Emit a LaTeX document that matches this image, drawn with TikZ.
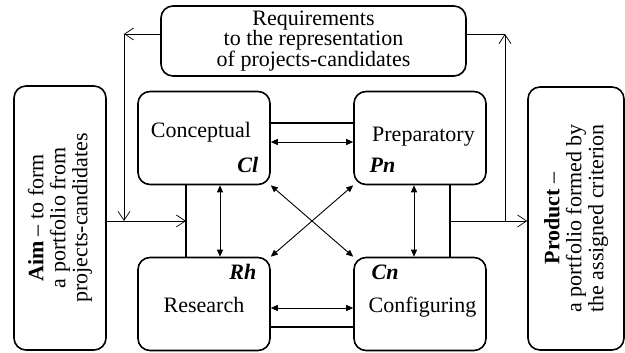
\documentclass[tikz,border=0pt]{standalone}
\usepackage{fontspec}
\setmainfont{Liberation Serif}
\usetikzlibrary{arrows.meta}
\begin{document}
\begin{tikzpicture}[x=1pt, y=1pt,
  blk/.style={draw, line width=1.6pt, rounded corners=12pt, minimum width=132pt, minimum height=93pt, inner sep=0pt},
  side/.style={draw, line width=1.6pt, rounded corners=12pt, inner sep=0pt, rotate=90, align=center, font=\fontsize{22}{22}\selectfont},
  tag/.style={font=\bfseries\itshape},
  bus/.style={line width=1.6pt},
  link/.style={line width=0.9pt, {Triangle[length=7pt,width=6pt]}-{Triangle[length=7pt,width=6pt]}},
  flow/.style={line width=0.7pt, -{Straight Barb[length=9pt,width=12pt]}}]
  \fontsize{22}{20}\selectfont
  \useasboundingbox (0,0) rectangle (625,353);

  \node[blk] (cl) at (204,215) {};
  \node[blk] (pn) at (420,215) {};
  \node[blk] (rh) at (204,49) {};
  \node[blk] (cn) at (420,49) {};
  \node[draw, line width=1.6pt, rounded corners=12pt, inner sep=0pt, minimum width=305pt, minimum height=70pt, align=center] (req) at (313.5,312) {Requirements\\to the representation\\of projects-candidates};
  \node[side, minimum width=264pt, minimum height=92pt] (aim) at (60,135) {\textbf{Aim} -- to form\\a portfolio from\\projects-candidates};
  \node[side, minimum width=263pt, minimum height=96pt] (prod) at (576,134.5) {\textbf{Product} --\\a portfolio formed by\\the assigned criterion};

  \node[anchor=base] (clt) at ([xshift=-3pt]cl.center) {Conceptual};
  \node[tag, anchor=base east] (cltag) at ([shift={(-5pt,12.5pt)}]cl.south east) {Cl};
  \node[anchor=base] (pnt) at ([shift={(3.5pt,-4pt)}]pn.center) {Preparatory};
  \node[tag, anchor=base west] (pntag) at ([shift={(9pt,12.5pt)}]pn.south west) {Pn};
  \node[anchor=base] (rht) at ([yshift=-9pt]rh.center) {Research};
  \node[tag, anchor=base east] (rhtag) at ([shift={(-7pt,-22.5pt)}]rh.north east) {Rh};
  \node[anchor=base] (cnt) at ([shift={(2.5pt,-9pt)}]cn.center) {Configuring};
  \node[tag, anchor=base west] (cntag) at ([shift={(11pt,-22.5pt)}]cn.north west) {Cn};

  \draw[bus] ([yshift=15pt]cl.east) -- ([yshift=15pt]pn.west);
  \draw[link] ([yshift=-4pt]cl.east) -- ([yshift=-4pt]pn.west);
  \draw[link] ([yshift=-4pt]rh.east) -- ([yshift=-4pt]cn.west);
  \draw[bus] ([yshift=-23pt]rh.east) -- ([yshift=-23pt]cn.west);
  \draw[bus] ([xshift=-18pt]cl.south) -- ([xshift=-18pt]rh.north);
  \draw[link] ([xshift=16pt]cl.south) -- ([xshift=16pt]rh.north);
  \draw[link] ([xshift=-6pt]pn.south) -- ([xshift=-6pt]cn.north);
  \draw[bus] ([xshift=30pt]pn.south) -- ([xshift=30pt]cn.north);
  \draw[link] (cl.south east) -- (cn.north west);
  \draw[link] (pn.south west) -- (rh.north east);

  \coordinate (jl) at (186,132);
  \coordinate (jr) at (450,132);
  \coordinate (fl) at (124,319);
  \coordinate (fr) at (505,319);
  \draw[flow] (aim.south |- jl) -- (jl);
  \draw[flow] (jr) -- (prod.north |- jr);
  \draw[flow] (req.west |- fl) -- (fl);
  \draw[flow] (fl) -- (fl |- jl);
  \draw[line width=0.7pt] (req.east |- fr) -- (fr);
  \draw[flow] (fr |- jr) -- (fr);
\end{tikzpicture}
\end{document}
